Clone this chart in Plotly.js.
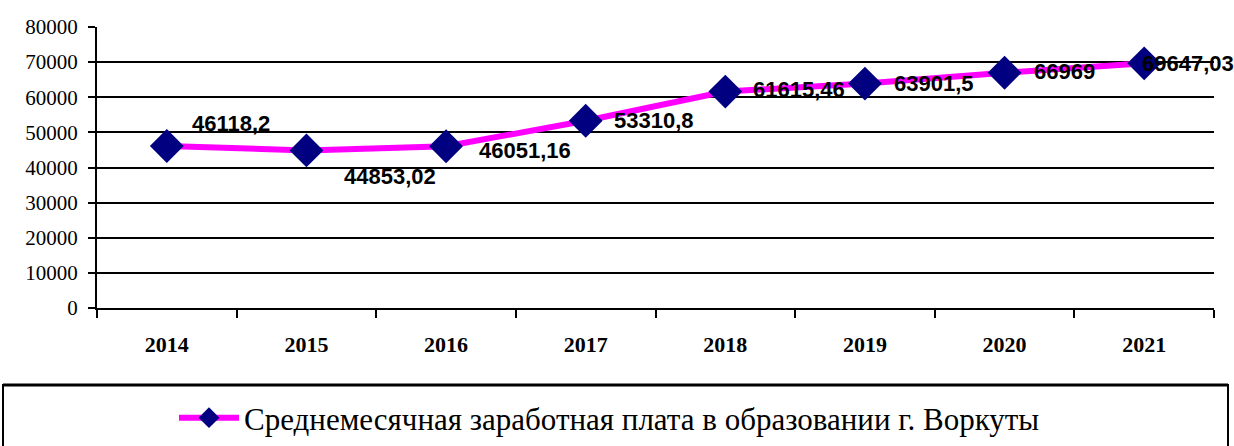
<!DOCTYPE html>
<html>
<head>
<meta charset="utf-8">
<script src="https://cdn.plot.ly/plotly-3.0.1.min.js"></script>
<style>
  html, body { margin: 0; padding: 0; background: #ffffff; }
  #chart { width: 1234px; height: 446px; }
</style>
</head>
<body>
<div id="chart"></div>
<script>
// ---- data ----
const years = ["2014", "2015", "2016", "2017", "2018", "2019", "2020", "2021"];
const salary = [46118.2, 44853.02, 46051.16, 53310.8, 61615.46, 63901.5, 66969, 69647.03];
const salaryLabels = ["46118,2", "44853,02", "46051,16", "53310,8", "61615,46", "63901,5", "66969", "69647,03"];
const seriesName = "Среднемесячная заработная плата в образовании г. Воркуты";
const yTicks = [0, 10000, 20000, 30000, 40000, 50000, 60000, 70000, 80000];

// ---- label placement (pixel offsets from each marker) ----
const labelDx = [23, 36, 31, 26, 26, 27, 27, -4];
const labelDy = [23, -26, -4, 0, 2, 0, 1, 0];

const W = 1234, H = 446;
const M = { l: 97, r: 20, t: 27, b: 138, autoexpand: false };
const pw = W - M.l - M.r, ph = H - M.t - M.b;
const px = p => (p - M.l) / pw;
const py = p => (H - M.b - p) / ph;

const SERIF = "Liberation Serif";
const SANS = "Liberation Sans";

const trace = {
  type: "scatter",
  mode: "lines+markers",
  x: years,
  y: salary,
  name: seriesName,
  line: { color: "#FF00FF", width: 6 },
  marker: { symbol: "diamond", size: 26, color: "#000080", line: { width: 0 } },
  hoverinfo: "x+y"
};

// category axis: annotation x given as the category index of each year
const annotations = years.map((yr, i) => ({
  x: years.indexOf(yr), y: salary[i], xref: "x", yref: "y",
  text: salaryLabels[i],
  showarrow: false,
  xanchor: "left", yanchor: "middle",
  xshift: labelDx[i], yshift: labelDy[i],
  font: { family: SANS, size: 22, color: "#000000", weight: "bold" }
}));

const layout = {
  width: W, height: H,
  margin: M,
  paper_bgcolor: "#ffffff",
  plot_bgcolor: "#ffffff",
  showlegend: true,
  legend: {
    x: px(174), xanchor: "left",
    y: py(418), yanchor: "middle",
    orientation: "h",
    bgcolor: "rgba(0,0,0,0)",
    borderwidth: 0,
    itemwidth: 60,
    font: { family: SERIF, size: 31, color: "#000000" }
  },
  xaxis: {
    type: "category",
    categoryarray: years, categoryorder: "array",
    range: [-0.5, 7.5],
    showgrid: false,
    showline: true, linecolor: "#000000", linewidth: 2,
    ticks: "outside", tickson: "boundaries", ticklen: 8, tickwidth: 2, tickcolor: "#000000",
    ticklabelstandoff: 16,
    tickfont: { family: SERIF, size: 22, color: "#000000", weight: "bold" },
    zeroline: false,
    fixedrange: true
  },
  yaxis: {
    range: [0, 80000],
    tickvals: yTicks,
    ticktext: yTicks.map(String),
    showgrid: true, gridcolor: "#000000", gridwidth: 2,
    showline: true, linecolor: "#000000", linewidth: 2,
    ticks: "outside", ticklen: 7, tickwidth: 2, tickcolor: "#000000",
    ticklabelstandoff: 6,
    tickfont: { family: SERIF, size: 21, color: "#000000" },
    zeroline: false,
    fixedrange: true
  },
  shapes: [
    {
      type: "rect", xref: "paper", yref: "paper",
      x0: px(3), x1: px(1228), y0: py(452), y1: py(385),
      line: { color: "#000000", width: 2 },
      fillcolor: "rgba(0,0,0,0)",
      layer: "above"
    },
    {
      type: "line", xref: "paper", yref: "paper",
      x0: px(3), x1: px(1228), y0: py(385), y1: py(385),
      line: { color: "#000000", width: 3 }
    }
  ],
  annotations: annotations
};

Plotly.newPlot("chart", [trace], layout, { displayModeBar: false, staticPlot: true });
</script>
</body>
</html>
